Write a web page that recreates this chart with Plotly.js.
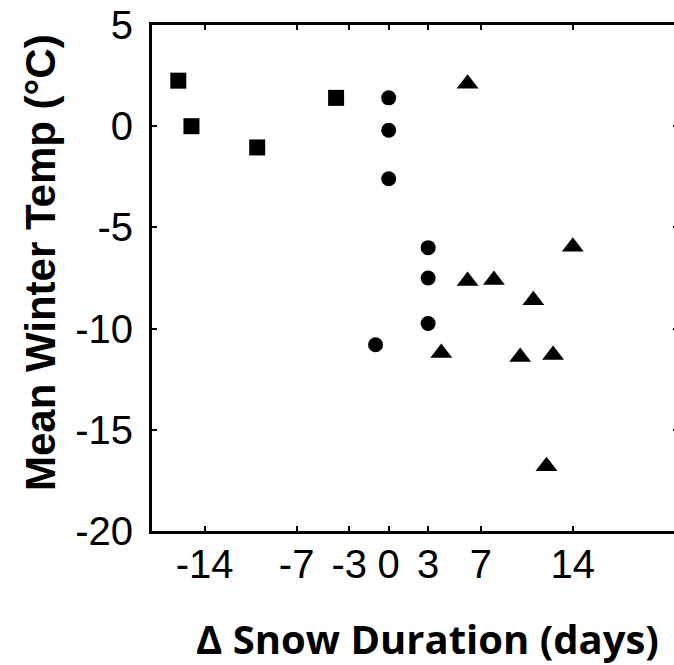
<!DOCTYPE html>
<html>
<head>
<meta charset="utf-8">
<script src="https://cdn.plot.ly/plotly-3.0.1.min.js"></script>
<style>html,body{margin:0;padding:0;background:#fff;overflow:hidden}</style>
</head>
<body>
<div id="chart" style="width:680px;height:665px"></div>
<script>
// Squares: earlier snow loss
const squareX = [-16, -15, -10, -4];
const squareY = [2.25, 0, -1.05, 1.4];
// Circles: little change
const circleX = [0, 0, 0, 3, 3, 3, -1];
const circleY = [1.4, -0.2, -2.6, -6, -7.5, -9.75, -10.8];
// Triangles: longer snow duration
const triX = [6, 6, 8, 11, 14, 4, 10, 12.5, 12];
const triY = [2.1, -7.65, -7.6, -8.6, -5.95, -11.2, -11.4, -11.3, -16.8];

const xTicks = [-14, -7, -3, 0, 3, 7, 14];
const yTicks = [5, 0, -5, -10, -15, -20];

const traces = [
  {x: squareX, y: squareY, mode: 'markers', type: 'scatter',
   marker: {symbol: 'square', size: 16, color: '#000'}},
  {x: circleX, y: circleY, mode: 'markers', type: 'scatter',
   marker: {symbol: 'circle', size: 15, color: '#000'}},
  {x: triX, y: triY, mode: 'markers', type: 'scatter',
   marker: {symbol: 'triangle-up', size: 19, color: '#000'}}
];

const L = 152, R = 678, T = 25, B = 531;
const PW = R - L, PH = B - T;
const tickFont = {size: 40, family: '"Liberation Sans", Arial, sans-serif', color: '#000'};

const layout = {
  width: 680, height: 665,
  margin: {l: L, r: 680 - R, t: T, b: 665 - B},
  paper_bgcolor: '#fff', plot_bgcolor: '#fff',
  showlegend: false,
  font: {family: '"Liberation Sans", Arial, sans-serif', color: '#000'},
  xaxis: {
    range: [-18, 22], tickvals: xTicks, ticktext: xTicks.map(String),
    showgrid: false, zeroline: false, showline: true, linewidth: 3, linecolor: '#000',
    mirror: 'ticks', ticks: 'inside', ticklen: 5, tickwidth: 2, tickcolor: '#000',
    tickfont: tickFont, ticklabelstandoff: -4
  },
  yaxis: {
    range: [-20, 5], tickvals: yTicks, ticktext: yTicks.map(String),
    showgrid: false, zeroline: false, showline: true, linewidth: 3, linecolor: '#000',
    mirror: 'ticks', ticks: 'inside', ticklen: 5, tickwidth: 2, tickcolor: '#000',
    tickfont: tickFont, ticklabelstandoff: 8
  },
  annotations: [
    {text: 'Mean Winter Temp (°C)', xref: 'paper', yref: 'paper',
     x: (40 - L) / PW, y: (B - 263) / PH, textangle: -90,
     showarrow: false, xanchor: 'center', yanchor: 'middle',
     font: {size: 42, family: '"Liberation Sans", Arial, sans-serif', weight: 'bold', color: '#000'}},
    {text: 'Δ Snow Duration (days)', xref: 'paper', yref: 'paper',
     x: (427 - L) / PW, y: (B - 638) / PH,
     showarrow: false, xanchor: 'center', yanchor: 'middle',
     font: {size: 40, family: '"Open Sans", sans-serif', weight: 'bold', color: '#000'}}
  ]
};

Plotly.newPlot('chart', traces, layout, {displayModeBar: false, staticPlot: true});
</script>
</body>
</html>
